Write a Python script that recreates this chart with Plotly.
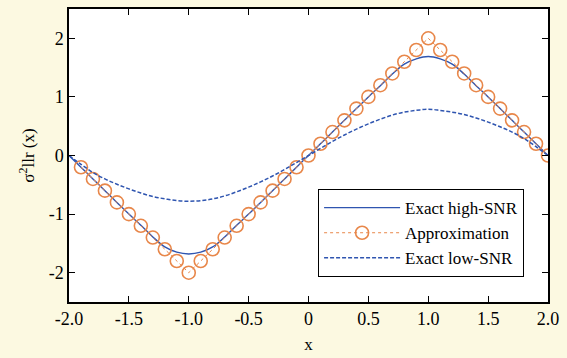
import plotly.graph_objects as go

# Exact high-SNR
x_exact = [-2.0, -1.9, -1.8, -1.7, -1.6, -1.5, -1.4, -1.3, -1.2, -1.1, -1.0,
           -0.9, -0.8, -0.7, -0.6, -0.5, -0.4, -0.3, -0.2, -0.1, 0.0,
           0.1, 0.2, 0.3, 0.4, 0.5, 0.6, 0.7, 0.8, 0.9, 1.0,
           1.1, 1.2, 1.3, 1.4, 1.5, 1.6, 1.7, 1.8, 1.9, 2.0]
y_high = [0.0, -0.2, -0.4, -0.6, -0.8, -1.0, -1.19, -1.39, -1.56, -1.65, -1.68,
          -1.65, -1.56, -1.39, -1.19, -1.0, -0.8, -0.6, -0.4, -0.2, 0.0,
          0.2, 0.4, 0.6, 0.8, 1.0, 1.19, 1.39, 1.56, 1.65, 1.69,
          1.65, 1.56, 1.39, 1.19, 1.0, 0.8, 0.6, 0.4, 0.2, 0.0]
y_low = [0.0, -0.15, -0.29, -0.4, -0.49, -0.57, -0.64, -0.7, -0.74, -0.77, -0.78,
         -0.77, -0.74, -0.69, -0.62, -0.54, -0.45, -0.35, -0.24, -0.12, 0.0,
         0.12, 0.24, 0.35, 0.45, 0.54, 0.62, 0.69, 0.74, 0.77, 0.79,
         0.77, 0.74, 0.7, 0.64, 0.57, 0.49, 0.4, 0.29, 0.15, 0.0]

# Approximation markers
x_approx = [-1.9, -1.8, -1.7, -1.6, -1.5, -1.4, -1.3, -1.2, -1.1, -1.0,
            -0.9, -0.8, -0.7, -0.6, -0.5, -0.4, -0.3, -0.2, -0.1, 0.0,
            0.1, 0.2, 0.3, 0.4, 0.5, 0.6, 0.7, 0.8, 0.9, 1.0,
            1.1, 1.2, 1.3, 1.4, 1.5, 1.6, 1.7, 1.8, 1.9, 2.0]
y_approx = [-0.2, -0.4, -0.6, -0.8, -1.0, -1.2, -1.4, -1.6, -1.8, -2.0,
            -1.8, -1.6, -1.4, -1.2, -1.0, -0.8, -0.6, -0.4, -0.2, 0.0,
            0.2, 0.4, 0.6, 0.8, 1.0, 1.2, 1.4, 1.6, 1.8, 2.0,
            1.8, 1.6, 1.4, 1.2, 1.0, 0.8, 0.6, 0.4, 0.2, 0.0]

x_tickvals = [-2.0, -1.5, -1.0, -0.5, 0.0, 0.5, 1.0, 1.5, 2.0]
x_ticktext = ["-2.0", "-1.5", "-1.0", "-0.5", "0", "0.5", "1.0", "1.5", "2.0"]
y_tickvals = [-2, -1, 0, 1, 2]
y_ticktext = ["-2", "-1", "0", "1", "2"]

BLUE = "#2f55b0"
ORANGE = "#e8874a"
FONT = "Liberation Serif"

fig = go.Figure()
fig.add_trace(go.Scatter(x=x_exact, y=y_high, mode="lines", name="Exact high-SNR",
                         line=dict(color=BLUE, width=1.4, shape="spline")))
fig.add_trace(go.Scatter(x=x_approx, y=y_approx, mode="lines+markers", name="Approximation",
                         line=dict(color=ORANGE, width=1, dash="dot"),
                         marker=dict(symbol="circle-open", size=13, color=ORANGE,
                                     line=dict(width=1.6, color=ORANGE))))
fig.add_trace(go.Scatter(x=x_exact, y=y_low, mode="lines", name="Exact low-SNR",
                         line=dict(color=BLUE, width=1.5, dash="4px,2px", shape="spline")))

axis_common = dict(showline=True, linecolor="black", linewidth=1.5, mirror="ticks",
                   ticks="inside", ticklen=6, tickwidth=1.2, tickcolor="black",
                   showgrid=False, zeroline=False,
                   tickfont=dict(family=FONT, size=18, color="black"))

fig.update_xaxes(range=[-2.0, 2.0], tickvals=x_tickvals, ticktext=x_ticktext,
                 title=dict(text="x", font=dict(family=FONT, size=17, color="black"), standoff=10),
                 **axis_common)
fig.update_yaxes(range=[-2.5, 2.5], tickvals=y_tickvals, ticktext=y_ticktext,
                 title=dict(text="σ<sup>2</sup>llr (x)", font=dict(family=FONT, size=17, color="black"),
                            standoff=10),
                 **axis_common)

fig.update_layout(
    width=567, height=358,
    margin=dict(l=69, r=19, t=7, b=56),
    paper_bgcolor="#fcf9e1", plot_bgcolor="white",
    showlegend=True,
    legend=dict(x=0.52, y=0.085, xanchor="left", yanchor="bottom",
                bgcolor="white", bordercolor="black", borderwidth=1,
                font=dict(family=FONT, size=17, color="black"),
                itemwidth=76, tracegroupgap=0),
)

fig.write_html("out.html")
